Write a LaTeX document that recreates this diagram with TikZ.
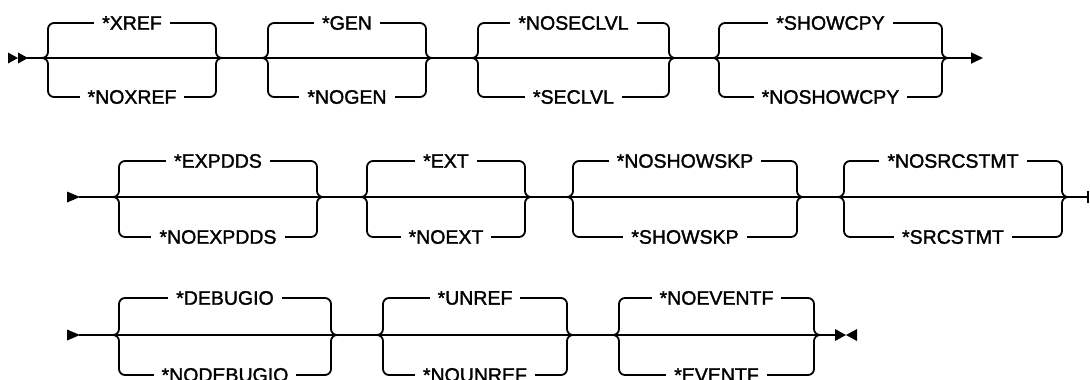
\documentclass[tikz,border=0pt]{standalone}
\usepackage{fontspec}
\setmainfont{Liberation Sans}[RawFeature={embolden=1.6}]
\usetikzlibrary{arrows.meta}
\tikzset{
  rail/.style={line width=1.8bp, line join=round},
  brace/.style={rail, rounded corners=6bp},
  lbl/.style={fill=white, inner xsep=8bp, inner ysep=1bp, font=\fontsize{19.5bp}{22bp}\selectfont},
  tipfill/.style={fill=black, draw=none},
}
% #1 name, #2 left tip x, #3 right tip x, #4 main y, #5 top y, #6 bottom y, #7 top label, #8 bottom label
\newcommand\railgrp[8]{%
  \coordinate (#1L) at (#2,#4);
  \coordinate (#1R) at (#3,#4);
  \draw[rail] (#1L) -- (#1R);
  \draw[brace] (#1L) -- ++(6,0) -- (#2+6,#5) -- (#3-6,#5) -- (#3-6,#4) -- (#1R);
  \draw[brace] (#1L) -- ++(6,0) -- (#2+6,#6) -- (#3-6,#6) -- (#3-6,#4) -- (#1R);
  \node[lbl] (#1t) at ({(#2+#3)/2},#5) {#7};
  \node[lbl] (#1b) at ({(#2+#3)/2},#6) {#8};
}
\begin{document}
\begin{tikzpicture}[x=1bp,y=-1bp]
\useasboundingbox (0,0) rectangle (1090,379);
\clip (0,0) rectangle (1090,379);
% ---------- row 1 ----------
\railgrp{ga}{42}{222}{58}{23}{97}{*XREF}{*NOXREF}
\railgrp{gb}{262}{432}{58}{23}{97}{*GEN}{*NOGEN}
\railgrp{gc}{472}{675}{58}{23}{97}{*NOSECLVL}{*SECLVL}
\railgrp{gd}{713}{948}{58}{23}{97}{*SHOWCPY}{*NOSHOWCPY}
\fill[tipfill] (8,52.5) -- (18,58) -- (8,63.5) -- cycle;
\fill[tipfill] (18,52.5) -- (28,58) -- (18,63.5) -- cycle;
\coordinate (s1) at (27,58);
\coordinate (e1) at (983,58);
\draw[rail] (s1) -- (gaL);
\draw[rail] (gaR) -- (gbL);
\draw[rail] (gbR) -- (gcL);
\draw[rail] (gcR) -- (gdL);
\draw[rail,-{Triangle[length=12bp,width=11bp]}] (gdR) -- (e1);
% ---------- row 2 ----------
\railgrp{ge}{113}{323}{197}{161}{237}{*EXPDDS}{*NOEXPDDS}
\railgrp{gf}{361}{531}{197}{161}{237}{*EXT}{*NOEXT}
\railgrp{gg}{567}{803}{197}{161}{237}{*NOSHOWSKP}{*SHOWSKP}
\railgrp{gh}{838}{1068}{197}{161}{237}{*NOSRCSTMT}{*SRCSTMT}
\fill[tipfill] (67,191.5) -- (80,197) -- (67,202.5) -- cycle;
\coordinate (s2) at (79,197);
\coordinate (e2) at (1088,197);
\coordinate (e2a) at (1088,191);
\coordinate (e2b) at (1088,203);
\draw[rail] (s2) -- (geL);
\draw[rail] (geR) -- (gfL);
\draw[rail] (gfR) -- (ggL);
\draw[rail] (ggR) -- (ghL);
\draw[rail] (ghR) -- (e2);
\draw[rail] (e2a) -- (e2b);
% ---------- row 3 ----------
\railgrp{gi}{113}{337}{335}{298}{375}{*DEBUGIO}{*NODEBUGIO}
\railgrp{gj}{377}{573}{335}{298}{375}{*UNREF}{*NOUNREF}
\railgrp{gk}{613}{820}{335}{298}{375}{*NOEVENTF}{*EVENTF}
\fill[tipfill] (67,329.5) -- (80,335) -- (67,340.5) -- cycle;
\coordinate (s3) at (79,335);
\coordinate (e3) at (836,335);
\draw[rail] (s3) -- (giL);
\draw[rail] (giR) -- (gjL);
\draw[rail] (gjR) -- (gkL);
\draw[rail] (gkR) -- (e3);
\fill[tipfill] (835,329) -- (846,335) -- (835,341) -- cycle;
\fill[tipfill] (857,329) -- (846,335) -- (857,341) -- cycle;
\end{tikzpicture}
\end{document}
